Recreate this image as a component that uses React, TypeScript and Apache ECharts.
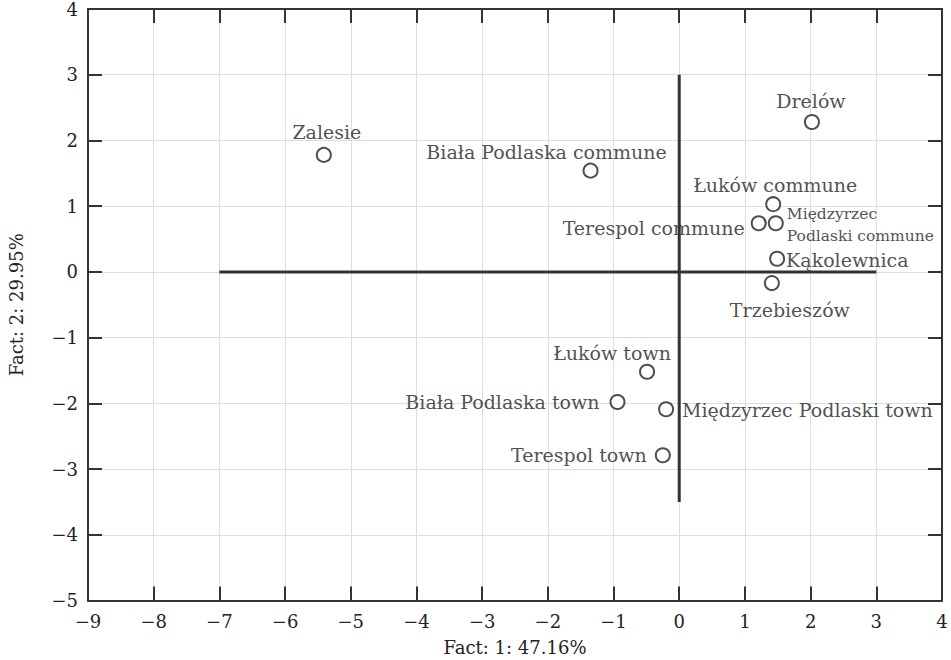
import React, { useEffect, useRef } from "react";
import * as echarts from "echarts";

const names = [
  "Zalesie",
  "Biała Podlaska commune",
  "Drelów",
  "Łuków commune",
  "Terespol commune",
  "Międzyrzec\nPodlaski commune",
  "Kąkolewnica",
  "Trzebieszów",
  "Łuków town",
  "Biała Podlaska town",
  "Międzyrzec Podlaski town",
  "Terespol town",
];
const fact1 = [-5.41, -1.35, 2.02, 1.43, 1.21, 1.47, 1.49, 1.41, -0.49, -0.94, -0.2, -0.25];
const fact2 = [1.78, 1.54, 2.28, 1.03, 0.74, 0.74, 0.2, -0.17, -1.52, -1.98, -2.09, -2.79];

// label placement: [dx, dy, align]
const labelPlacement: [number, number, string][] = [
  [3, -23, "center"],
  [-44, -19, "center"],
  [-1, -21, "center"],
  [2, -19, "center"],
  [-14, 5, "right"],
  [11, 2, "left"],
  [9, 1, "left"],
  [18, 27, "center"],
  [-35, -19, "center"],
  [-18, 0, "right"],
  [16, 1, "left"],
  [-16, 0, "right"],
];

const hLine = [[-7, 0], [3, 0]];
const vLine = [[0, 3], [0, -3.5]];

const FONT = "DejaVu Serif";
const TXT = "#222";
const fmt = (v: number) => String(v).replace("-", "\u2212");

export default function App() {
  const ref = useRef<HTMLDivElement>(null);
  useEffect(() => {
    const chart = echarts.init(ref.current!, null, { renderer: "svg" });
    const axisCommon = {
      type: "value",
      interval: 1,
      nameMoveOverlap: false,
      axisLine: { show: true, onZero: false, lineStyle: { color: "#333", width: 2 } },
      axisTick: { show: true, inside: true, length: 14, lineStyle: { color: "#333", width: 2 } },
    };
    const data = names.map((n, i) => {
      const [dx, dy, align] = labelPlacement[i];
      const small = i === 5;
      return {
        value: [fact1[i], fact2[i]],
        name: n,
        label: {
          show: true,
          position: "inside",
          offset: [dx, dy],
          align,
          verticalAlign: "middle",
          formatter: n,
          fontFamily: FONT,
          fontSize: small ? 15.5 : 19,
          lineHeight: 22,
          color: TXT,
        },
      };
    });
    chart.setOption({
      animation: false,
      backgroundColor: "#fff",
      grid: { left: 88, right: 9, top: 9, bottom: 59.5, outerBoundsMode: "none", containLabel: false },
      xAxis: [
        {
          ...axisCommon,
          min: -9,
          max: 4,
          position: "bottom",
          name: "Fact: 1: 47.16%",
          nameLocation: "middle",
          nameGap: 38,
          nameTextStyle: { fontFamily: FONT, fontSize: 18, color: TXT },
          axisLabel: { fontFamily: FONT, fontSize: 18, color: TXT, margin: 12, formatter: fmt },
          splitLine: { show: true, lineStyle: { color: "#dddddd", width: 1 } },
        },
        {
          ...axisCommon,
          min: -9,
          max: 4,
          position: "top",
          axisLabel: { show: false },
          splitLine: { show: false },
        },
      ],
      yAxis: [
        {
          ...axisCommon,
          min: -5,
          max: 4,
          position: "left",
          name: "Fact: 2: 29.95%",
          nameLocation: "middle",
          nameGap: 63,
          nameRotate: 90,
          nameTextStyle: { fontFamily: FONT, fontSize: 18, color: TXT },
          axisLabel: { fontFamily: FONT, fontSize: 18, color: TXT, margin: 10, formatter: fmt },
          splitLine: { show: true, lineStyle: { color: "#dddddd", width: 1 } },
        },
        {
          ...axisCommon,
          min: -5,
          max: 4,
          position: "right",
          axisLabel: { show: false },
          splitLine: { show: false },
        },
      ],
      series: [
        {
          type: "line",
          data: hLine,
          symbol: "none",
          lineStyle: { color: "#333", width: 3 },
          silent: true,
        },
        {
          type: "line",
          data: vLine,
          symbol: "none",
          lineStyle: { color: "#333", width: 3 },
          silent: true,
        },
        {
          type: "scatter",
          symbol: "circle",
          symbolSize: 14,
          itemStyle: { color: "#fff", borderColor: "#222", borderWidth: 2 },
          data,
        },
      ],
    });
    return () => chart.dispose();
  }, []);
  return <div ref={ref} style={{ width: 951, height: 660, position: "absolute", left: 0, top: 0 }} />;
}
